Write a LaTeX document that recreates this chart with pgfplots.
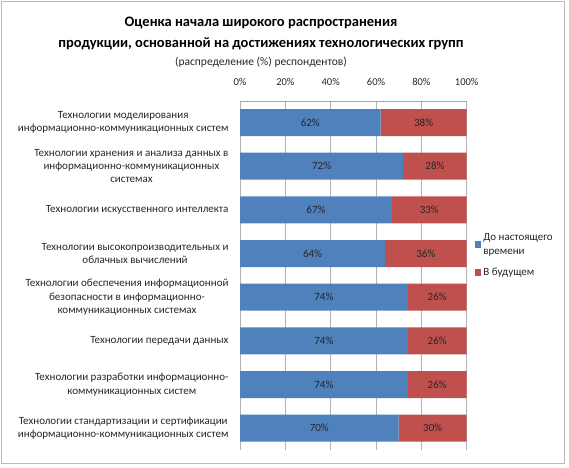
\documentclass[border=0pt]{standalone}
\usepackage{pgfplots}
\pgfplotsset{compat=1.18}
\usepackage{pgfplotstable}
\usepackage{fontspec}
\setmainfont{Carlito}
\definecolor{barblue}{HTML}{4F81BD}
\definecolor{barred}{HTML}{C0504D}
\definecolor{txt}{HTML}{262626}
\pgfplotstableread{
idx now fut
0 62 38
1 72 28
2 67 33
3 64 36
4 74 26
5 74 26
6 74 26
7 70 30
}\data
\pgfplotsset{common/.style={
  at={(240pt,17pt)}, anchor=south west,
  scale only axis, width=226.7pt, height=349.3pt,
  xmin=0, xmax=100, ymin=-0.5, ymax=7.5,
  y dir=reverse}}
\begin{document}
\begin{tikzpicture}[x=1pt,y=1pt]
\path[use as bounding box] (0,0) rectangle (569,467);
\draw[gray!55,line width=0.8pt] (1.5,4) rectangle (564,465.5);
\node[font=\fontsize{14.5}{17}\selectfont\bfseries,text=black] at (261,444) {Оценка начала широкого распространения};
\node[font=\fontsize{14.5}{17}\selectfont\bfseries,text=black] at (261,423.5) {продукции, основанной на достижениях технологических групп};
\node[font=\fontsize{11.5}{14}\selectfont,text=txt] at (261,404.5) {(распределение (\%) респондентов)};
\begin{axis}[
  common,
  xbar stacked, bar width=27pt,
  axis x line*=top, axis y line*=left,
  x axis line style={draw=gray!70},
  y axis line style={draw=none},
  xtick={0,20,40,60,80,100},
  xticklabel={\pgfmathprintnumber{\tick}\%},
  /pgf/number format/assume math mode=true,
  xticklabel style={font=\fontsize{10.5}{12}\selectfont, text=txt, yshift=12pt},
  major tick length=0pt,
  xmajorgrids, grid style={gray!60, line width=0.6pt},
  ytick={0,...,7},
  yticklabels={
    {Технологии моделирования\\информационно-коммуникационных систем},
    {Технологии хранения и анализа данных в\\информационно-коммуникационных\\системах},
    {Технологии искусственного интеллекта},
    {Технологии высокопроизводительных и\\облачных вычислений},
    {Технологии обеспечения информационной\\безопасности в информационно-\\коммуникационных системах},
    {Технологии передачи данных},
    {Технологии разработки информационно-\\коммуникационных систем},
    {Технологии стандартизации и сертификации\\информационно-коммуникационных систем}
  },
  yticklabel style={align=center, font=\fontsize{11}{13.3}\selectfont, text=txt, xshift=-8pt},
  legend style={at={(1,0.558)}, anchor=west, xshift=8pt, draw=none, fill=none,
    font=\fontsize{11}{14}\selectfont, text=txt, cells={anchor=west, align=left},
    row sep=8pt, inner sep=0pt},
  legend image code/.code={\fill[#1] (0pt,-3.2pt) rectangle (6.5pt,3.2pt);},
]
\addplot[fill=barblue, draw=none] table[x=now, y=idx] {\data};
\addlegendentry{До настоящего\\времени}
\addplot[fill=barred, draw=none] table[x=fut, y=idx] {\data};
\addlegendentry{В будущем}
\end{axis}
\begin{axis}[common, hide axis,
  nodes near coords style={font=\fontsize{11}{12}\selectfont, text=txt, anchor=center}]
\addplot[only marks, mark=none, point meta=explicit symbolic,
  nodes near coords={\pgfplotspointmeta\%}]
  table[x expr=\thisrow{now}/2, y=idx, meta=now] {\data};
\addplot[only marks, mark=none, point meta=explicit symbolic,
  nodes near coords={\pgfplotspointmeta\%}]
  table[x expr=\thisrow{now}+\thisrow{fut}/2, y=idx, meta=fut] {\data};
\end{axis}
\end{tikzpicture}
\end{document}
